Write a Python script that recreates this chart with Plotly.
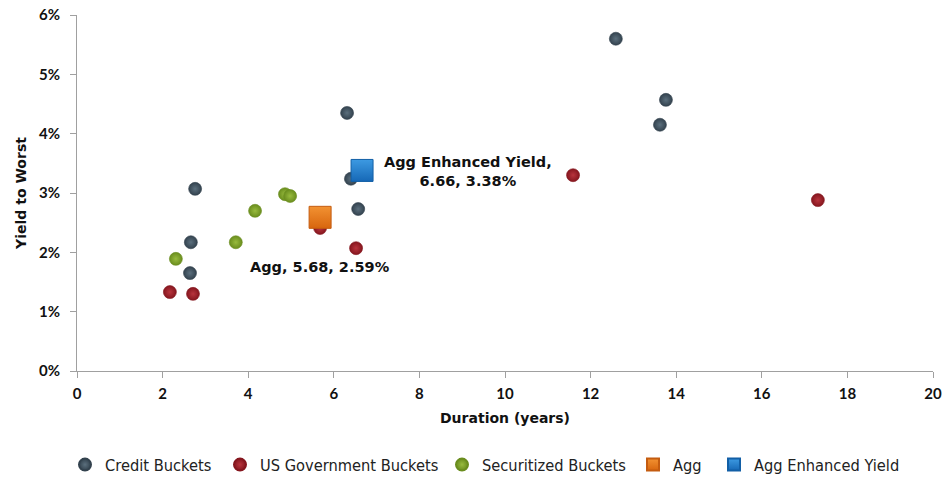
import plotly.graph_objects as go

credit_x = [2.76, 2.66, 2.64, 6.31, 6.40, 6.57, 12.59, 13.76, 13.62]
credit_y = [3.07, 2.17, 1.65, 4.35, 3.24, 2.73, 5.60, 4.57, 4.15]

gov_x = [2.17, 2.71, 5.68, 6.52, 11.59, 17.31]
gov_y = [1.33, 1.30, 2.41, 2.07, 3.30, 2.88]

sec_x = [2.31, 3.71, 4.16, 4.86, 4.98]
sec_y = [1.89, 2.17, 2.70, 2.98, 2.95]

agg_x = [5.68]
agg_y = [2.59]

aggey_x = [6.66]
aggey_y = [3.38]

x_ticks = [0, 2, 4, 6, 8, 10, 12, 14, 16, 18, 20]
y_ticks = [0, 1, 2, 3, 4, 5, 6]
y_tick_labels = ["0%", "1%", "2%", "3%", "4%", "5%", "6%"]

FONT = "Lato"
ANN_FONT = "DejaVu Sans"

W, H = 943, 477
ML, MR, MT, MB = 77, 10, 15, 106
PW = W - ML - MR
PH = H - MT - MB

fig = go.Figure()

def sphere(name, xs, ys, color, light, legend):
    fig.add_trace(go.Scatter(
        x=xs, y=ys, mode="markers", name=name, legend=legend,
        marker=dict(size=13, color=color, symbol="circle",
                    gradient=dict(type="radial", color=light),
                    line=dict(width=0.6, color=color)),
    ))

sphere("Credit Buckets", credit_x, credit_y, "#33424e", "#5b6f7d", "legend")
sphere("US Government Buckets", gov_x, gov_y, "#85161e", "#b8343d", "legend2")
sphere("Securitized Buckets", sec_x, sec_y, "#6a8d1e", "#98bb3e", "legend3")

fig.add_trace(go.Scatter(
    x=agg_x, y=agg_y, mode="markers", name="Agg", legend="legend4",
    marker=dict(size=22, symbol="square", color="#f29232",
                gradient=dict(type="vertical", color="#d8660e"),
                line=dict(width=1, color="#c45c10")),
))
fig.add_trace(go.Scatter(
    x=aggey_x, y=aggey_y, mode="markers", name="Agg Enhanced Yield", legend="legend5",
    marker=dict(size=22, symbol="square", color="#3d9ae2",
                gradient=dict(type="vertical", color="#1668b6"),
                line=dict(width=1, color="#125fa6")),
))

fig.add_annotation(x=aggey_x[0], y=aggey_y[0], xref="x", yref="y",
                   text=f"Agg Enhanced Yield,<br>{aggey_x[0]:.2f}, {aggey_y[0]:.2f}%",
                   showarrow=False, xanchor="center", yanchor="middle",
                   xshift=106, yshift=-1, align="center",
                   font=dict(family=ANN_FONT, size=14.5, color="#111111", weight="bold"))
fig.add_annotation(x=agg_x[0], y=agg_y[0], xref="x", yref="y",
                   text=f"Agg, {agg_x[0]:.2f}, {agg_y[0]:.2f}%",
                   showarrow=False, xanchor="center", yanchor="middle",
                   xshift=0, yshift=-50,
                   font=dict(family=ANN_FONT, size=14.5, color="#111111", weight="bold"))

leg_font = dict(family="DejaVu Sans Condensed, Liberation Sans Narrow, Lato",
                size=16.3, color="#222222")
text_starts = [105, 260, 482, 673, 754]
leg_y = (MT + PH - 465) / PH
legends = {}
for i, ts in enumerate(text_starts):
    key = "legend" if i == 0 else f"legend{i + 1}"
    legends[key] = dict(orientation="h", x=(ts - 40 - ML) / PW, xanchor="left",
                        y=leg_y, yanchor="middle", font=leg_font,
                        itemwidth=30, itemsizing="constant",
                        bgcolor="rgba(0,0,0,0)", borderwidth=0)

fig.update_layout(
    width=W, height=H,
    margin=dict(l=ML, r=MR, t=MT, b=MB, autoexpand=False),
    paper_bgcolor="white", plot_bgcolor="white",
    font=dict(family=FONT, color="#111111"),
    showlegend=True,
    **legends,
)
fig.update_xaxes(
    range=[0, 20], tickvals=x_ticks, ticktext=[str(v) for v in x_ticks],
    showgrid=False, zeroline=False, showline=True, linecolor="#a0a0a0", linewidth=1,
    ticks="outside", ticklen=6, tickcolor="#a0a0a0", automargin=False,
    ticklabelstandoff=3,
    tickfont=dict(family=FONT, size=15, color="#111111", weight="bold"),
    title=dict(text="Duration (years)", standoff=12,
               font=dict(family=ANN_FONT, size=14, color="#111111", weight="bold")),
)
fig.update_yaxes(
    range=[0, 6], tickvals=y_ticks, ticktext=y_tick_labels,
    showgrid=False, zeroline=False, showline=True, linecolor="#a0a0a0", linewidth=1,
    ticks="outside", ticklen=6, tickcolor="#a0a0a0", automargin=False,
    ticklabelstandoff=7,
    tickfont=dict(family=FONT, size=15, color="#111111", weight="bold"),
    title=dict(text="Yield to Worst", standoff=9,
               font=dict(family=ANN_FONT, size=14, color="#111111", weight="bold")),
)

fig.write_html("out.html", post_script="document.body.style.margin='0';",
               config={"displayModeBar": False})
